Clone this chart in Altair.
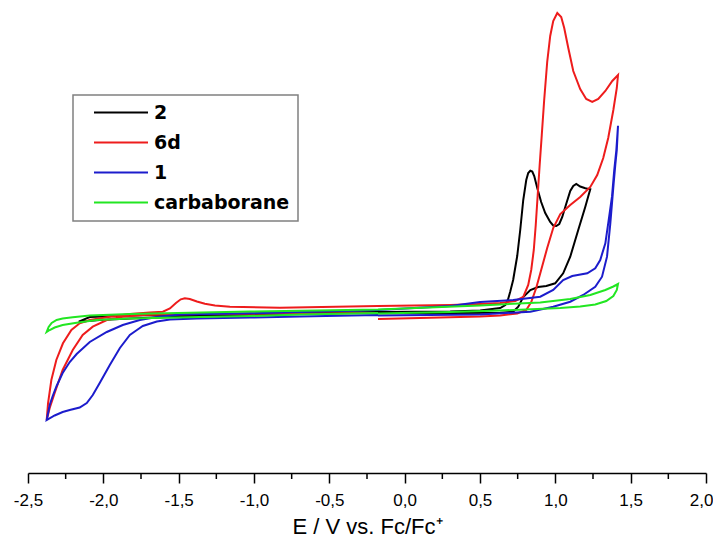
import altair as alt
import pandas as pd

# Cyclic voltammograms: potential E (V vs. Fc/Fc+) and current I (arbitrary units)
series_names = ["2", "6d", "1", "carbaborane"]
series_colors = ["#000000", "#ee1c1c", "#1c1ccc", "#22e622"]

E_2 = [-0.177, -0.695, -1.359, -1.824, -2.024, -2.163, -2.090, -1.824, -1.359, -0.695,
       -0.177, 0.302, 0.501, 0.634, 0.668, 0.687, 0.700, 0.720, 0.747, 0.767,
       0.787, 0.807, 0.820, 0.834, 0.847, 0.860, 0.880, 0.906, 0.933, 0.966,
       0.986, 1.006, 1.026, 1.046, 1.072, 1.099, 1.119, 1.139, 1.165, 1.199,
       1.232, 1.219, 1.199, 1.152, 1.099, 1.052, 0.999, 0.940, 0.886, 0.834,
       0.787, 0.754, 0.720, 0.634, 0.302, -0.177]
I_2 = [0.25, 0.10, -0.10, -0.35, -0.50, -0.67, -0.20, -0.05, 0.05, 0.20,
       0.30, 0.35, 0.45, 0.70, 1.00, 1.60, 2.30, 3.50, 5.90, 8.50,
       11.50, 13.50, 14.20, 14.43, 14.35, 13.90, 12.70, 11.30, 10.20, 9.30,
       8.95, 8.90, 9.10, 9.80, 11.10, 12.40, 12.90, 13.10, 12.85, 12.67,
       12.57, 11.90, 10.83, 8.50, 5.83, 4.17, 3.17, 2.90, 2.80, 2.50,
       1.80, 0.83, 0.33, 0.23, 0.20, 0.17]

E_6d = [-0.177, -0.695, -1.359, -1.738, -1.871, -1.977, -2.070, -2.137, -2.203, -2.270,
        -2.323, -2.356, -2.376, -2.367, -2.345, -2.312, -2.268, -2.212, -2.157, -2.090,
        -1.957, -1.824, -1.692, -1.605, -1.558, -1.518, -1.486, -1.459, -1.426, -1.379,
        -1.326, -1.259, -1.160, -0.828, -0.177, 0.302, 0.501, 0.634, 0.734, 0.787,
        0.820, 0.840, 0.857, 0.870, 0.883, 0.896, 0.910, 0.926, 0.946, 0.966,
        0.986, 1.013, 1.039, 1.059, 1.086, 1.119, 1.165, 1.205, 1.245, 1.285,
        1.332, 1.378, 1.416, 1.408, 1.385, 1.351, 1.318, 1.278, 1.232, 1.165,
        1.099, 1.033, 0.986, 0.946, 0.906, 0.873, 0.840, 0.807, 0.747, 0.634,
        0.501, 0.102, -0.177]
I_6d = [0.20, 0.15, 0.10, 0.00, -0.17, -0.50, -1.17, -2.00, -3.50, -5.50,
        -7.80, -9.30, -10.50, -8.83, -6.50, -4.50, -2.83, -1.50, -0.83, -0.50,
        -0.17, 0.10, 0.25, 0.33, 0.65, 1.20, 1.57, 1.67, 1.60, 1.35,
        1.12, 0.95, 0.83, 0.72, 0.90, 1.00, 1.10, 1.20, 1.40, 1.80,
        3.00, 4.50, 6.50, 9.00, 12.00, 15.00, 18.00, 21.50, 25.30, 27.90,
        29.40, 30.20, 29.80, 28.70, 26.70, 24.40, 22.60, 21.60, 21.30, 21.60,
        22.40, 23.40, 24.00, 22.70, 20.50, 17.70, 15.70, 14.00, 12.80, 11.80,
        11.00, 10.10, 8.70, 6.70, 4.50, 2.70, 1.30, 0.50, 0.15, -0.05,
        -0.15, -0.30, -0.40]

E_1 = [-0.177, -0.695, -1.027, -1.379, -1.558, -1.645, -1.738, -1.777, -1.824, -1.890,
       -1.957, -2.024, -2.070, -2.110, -2.157, -2.223, -2.270, -2.323, -2.376, -2.356,
       -2.336, -2.310, -2.270, -2.223, -2.177, -2.090, -1.977, -1.871, -1.758, -1.645,
       -1.492, -1.027, -0.177, 0.302, 0.501, 0.720, 0.900, 0.986, 1.052, 1.112,
       1.212, 1.265, 1.298, 1.332, 1.351, 1.376, 1.391, 1.405, 1.416, 1.408,
       1.398, 1.387, 1.365, 1.343, 1.310, 1.265, 1.185, 1.099, 0.986, 0.834,
       0.501, -0.177]
I_1 = [0.00, -0.15, -0.25, -0.35, -0.45, -0.65, -1.10, -1.50, -2.00, -3.30,
       -5.00, -6.80, -8.00, -8.80, -9.25, -9.50, -9.70, -10.05, -10.50, -9.00,
       -8.10, -7.10, -5.80, -4.70, -3.90, -2.70, -1.70, -1.00, -0.50, -0.20,
       0.05, 0.17, 0.50, 0.90, 1.30, 1.50, 1.83, 2.50, 3.50, 3.90,
       4.17, 4.67, 5.50, 7.17, 9.17, 11.83, 14.50, 16.50, 18.93, 16.50,
       15.00, 13.17, 9.17, 5.83, 3.83, 2.83, 2.00, 1.33, 0.83, 0.33,
       0.05, -0.05]

E_cb = [-0.177, -0.695, -1.027, -1.359, -1.824, -2.044, -2.177, -2.270, -2.323, -2.356,
        -2.376, -2.363, -2.343, -2.310, -2.270, -2.203, -2.090, -1.824, -1.027, -0.177,
        0.501, 0.900, 1.099, 1.232, 1.332, 1.385, 1.416, 1.408, 1.385, 1.338,
        1.265, 1.165, 1.033, 0.634, 0.302, -0.177]
I_cb = [0.20, 0.05, -0.10, -0.20, -0.35, -0.50, -0.77, -1.00, -1.25, -1.50,
        -1.70, -1.20, -0.80, -0.50, -0.35, -0.23, -0.05, 0.10, 0.35, 0.55,
        0.95, 1.25, 1.60, 2.00, 2.50, 2.85, 3.10, 2.50, 1.90, 1.40,
        1.05, 0.85, 0.70, 0.45, 0.30, 0.15]

major_ticks = [-2.5, -2.0, -1.5, -1.0, -0.5, 0.0, 0.5, 1.0, 1.5, 2.0]
minor_ticks = [-2.25, -1.75, -1.25, -0.75, -0.25, 0.25, 0.75, 1.25, 1.75]

rows = []
for name, E, I in zip(series_names, [E_2, E_6d, E_1, E_cb], [I_2, I_6d, I_1, I_cb]):
    for k, (e, i) in enumerate(zip(E, I)):
        rows.append({"compound": name, "idx": k, "E": e, "I": i})
df = pd.DataFrame(rows)

W, H = 678, 465
xscale = alt.Scale(domain=[-2.5, 2.0], nice=False, zero=False)
yscale = alt.Scale(domain=[-15.8, 30.7], nice=False, zero=False)

label_expr = "replace(replace(format(datum.value, '.1f'), '.', ','), '−', '-')"
last_tick = "datum.value >= 1.99"

x_enc = alt.X(
    "E:Q", scale=xscale,
    axis=alt.Axis(values=major_ticks, title="E / V vs. Fc/Fc⁺", labelExpr=label_expr,
                  grid=False, domainColor="black", domainWidth=1.5,
                  tickColor="black", tickWidth=1.5, tickSize=10,
                  labelFont="Liberation Sans", labelFontSize=17, labelColor="black",
                  labelPadding=9, labelFlush=False, labelOverlap=False,
                  labelAlign=alt.ConditionalAxisLabelAlign(
                      condition={"test": last_tick, "value": "right"}, value="center"),
                  labelOffset=alt.ConditionalAxisNumber(
                      condition={"test": last_tick, "value": 7}, value=0),
                  titleFont="Liberation Sans", titleFontSize=22, titleFontWeight="normal",
                  titleColor="black", titleY=60, titleBaseline="alphabetic"),
)

lines = alt.Chart(df).mark_line(strokeWidth=2).encode(
    y=alt.Y("I:Q", scale=yscale, axis=None),
    color=alt.Color("compound:N",
                    scale=alt.Scale(domain=series_names, range=series_colors),
                    legend=alt.Legend(title=None, orient="none", legendX=45, legendY=87,
                                      padding=8, strokeColor="#808080",
                                      symbolType="M-5.4,0H5.4", symbolSize=100,
                                      symbolStrokeWidth=2, symbolOffset=30.5, labelOffset=23.5,
                                      labelFont="DejaVu Sans", labelFontSize=19,
                                      labelFontWeight="bold", labelColor="black",
                                      rowPadding=10, labelLimit=400)),
    order=alt.Order("idx:Q"),
)

minor = alt.Chart(pd.DataFrame({"E": minor_ticks})).mark_rule(color="black", strokeWidth=1.5).encode(
    y=alt.value(H),
    y2=alt.value(H + 6),
)

chart = alt.layer(minor, lines).encode(x=x_enc).properties(
    width=W, height=H,
    autosize=alt.AutoSizeParams(type="none"),
    padding={"left": 20, "top": 0, "right": 7, "bottom": 64},
).configure_view(stroke=None).configure_legend(strokeWidth=1.5)

chart.save("out.html", embed_options={"renderer": "svg", "actions": False})
